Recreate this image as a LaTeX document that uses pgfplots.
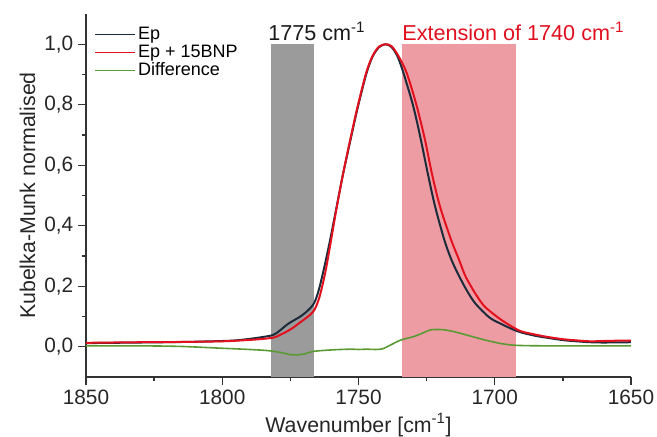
\documentclass[border=0pt]{standalone}
\usepackage{pgfplots}
\pgfplotsset{compat=1.18}
\usepackage{fontspec}
\setmainfont{Liberation Sans}
\definecolor{epcol}{HTML}{1C2B3A}
\definecolor{bnpcol}{HTML}{E3101E}
\definecolor{diffcol}{HTML}{5A9A32}
\definecolor{grayband}{HTML}{9B9B9B}
\definecolor{pinkband}{HTML}{EE9CA4}
\definecolor{axcol}{HTML}{333333}
\definecolor{redtext}{HTML}{E0101F}
\begin{document}
\begin{tikzpicture}
\useasboundingbox (-64.5pt,-44.25pt) rectangle (428.25pt,282.75pt);
\begin{axis}[
  scale only axis,
  width=408.75pt, height=272.25pt,
  x dir=reverse,
  xmin=1650, xmax=1850,
  ymin=-0.1, ymax=1.1,
  axis lines=left,
  axis line style={-, axcol, line width=1.1pt},
  xtick={1650,1700,1750,1800,1850},
  ytick={0,0.2,0.4,0.6,0.8,1.0},
  minor x tick num=1,
  minor y tick num=1,
  tick align=outside,
  major tick length=6pt,
  minor tick length=3pt,
  tick style={axcol, line width=1pt},
  /pgf/number format/assume math mode=true,
  xticklabel style={/pgf/number format/1000 sep={}},
  yticklabel style={/pgf/number format/.cd, fixed, fixed zerofill, precision=1, use comma},
  ticklabel style={font=\fontsize{15.6}{18}\selectfont, text=black!85},
  label style={font=\fontsize{16}{19}\selectfont, text=black!85},
  xlabel={Wavenumber [cm\textsuperscript{-1}]},
  ylabel={Kubelka-Munk normalised},
  legend style={draw=none, fill=none, at={(0.012,0.975)}, anchor=north west,
    font=\fontsize{13.5}{16}\selectfont, row sep=-1.5pt, inner sep=1pt},
  legend cell align=left,
  legend image code/.code={\draw[#1, line width=1pt] (0pt,0pt) -- (30pt,0pt);},
]
\addplot[fill=grayband, draw=none, forget plot] coordinates {(1782,-0.1) (1782,1.0) (1766.3,1.0) (1766.3,-0.1)} -- cycle;
\addplot[fill=pinkband, draw=none, forget plot] coordinates {(1734.2,-0.1) (1734.2,1.0) (1692.3,1.0) (1692.3,-0.1)} -- cycle;

\addplot[color=epcol, line width=1.5pt, smooth] coordinates {
(1850,0.012) (1830,0.014) (1813,0.016) (1800,0.019) (1795,0.021) (1790,0.026)
(1786,0.031) (1781.3,0.039) (1778.8,0.054) (1776.4,0.072) (1774,0.086) (1771.5,0.099)
(1768.8,0.118) (1766.3,0.144) (1764.5,0.19) (1762.5,0.265) (1760.6,0.345) (1758.3,0.45)
(1755.8,0.565) (1753.1,0.677) (1750.3,0.79) (1747.2,0.9) (1744.9,0.958) (1742.5,0.99)
(1740,1.0) (1737.8,0.99) (1735.6,0.958) (1733.5,0.905) (1729.9,0.795) (1727.1,0.684)
(1724.6,0.574) (1721.9,0.464) (1718.5,0.353) (1716,0.29) (1713.6,0.243) (1710.5,0.19)
(1707.2,0.144) (1702,0.097) (1698,0.077) (1694,0.060) (1690.6,0.048)
(1685,0.036) (1681,0.030) (1675,0.022) (1670,0.018) (1665,0.015) (1660,0.014) (1650,0.015)
};
\addlegendentry{Ep}
\addplot[color=bnpcol, line width=1.5pt, smooth] coordinates {
(1850,0.013) (1830,0.015) (1813,0.016) (1800,0.018) (1795,0.020) (1787.6,0.024)
(1781.3,0.030) (1778.8,0.039) (1776.4,0.050) (1774,0.063) (1771.5,0.080) (1768.8,0.098)
(1766.3,0.12) (1764.3,0.165) (1762.2,0.245) (1760.4,0.335) (1758.1,0.455)
(1755.7,0.57) (1753.1,0.682) (1750.3,0.795) (1747.2,0.905) (1744.9,0.96) (1742.5,0.992)
(1740,1.0) (1737.8,0.993) (1735.4,0.962) (1732.3,0.905) (1728.6,0.795) (1725.6,0.684)
(1723.1,0.574) (1720.1,0.464) (1716,0.353) (1713.2,0.29) (1711,0.238) (1708.6,0.198)
(1706.2,0.163) (1703.6,0.132) (1699,0.098) (1695.6,0.077) (1690.6,0.052)
(1685,0.040) (1681,0.033) (1675,0.025) (1670,0.021) (1665,0.018) (1660,0.019) (1655,0.020) (1650,0.020)
};
\addlegendentry{Ep + 15BNP}
\addplot[color=diffcol, line width=1.2pt, smooth] coordinates {
(1850,0.003) (1830,0.003) (1815,0.001) (1800,-0.005) (1790,-0.009) (1783,-0.013)
(1778,-0.020) (1775,-0.026) (1773,-0.027) (1770,-0.024) (1767,-0.016) (1764,-0.013)
(1759,-0.010) (1753,-0.008) (1750,-0.009) (1747,-0.008) (1744,-0.009) (1741.2,-0.007)
(1738.2,0.006) (1734.5,0.022) (1729.6,0.034) (1726,0.047) (1723.5,0.056) (1721,0.057)
(1718.5,0.056) (1715,0.050) (1712,0.043) (1708,0.033) (1703,0.021) (1698,0.011)
(1694,0.006) (1690,0.004) (1680,0.003) (1650,0.003)
};
\addlegendentry{Difference}

\node[anchor=base west, font=\fontsize{16.2}{19}\selectfont, text=black!90, inner sep=0pt]
  at (axis cs:1783.2,1.012) {1775 cm\textsuperscript{-1}};
\node[anchor=base west, font=\fontsize{16.2}{19}\selectfont, text=redtext, inner sep=0pt]
  at (axis cs:1734,1.012) {Extension of 1740 cm\textsuperscript{-1}};
\end{axis}
\end{tikzpicture}
\end{document}
